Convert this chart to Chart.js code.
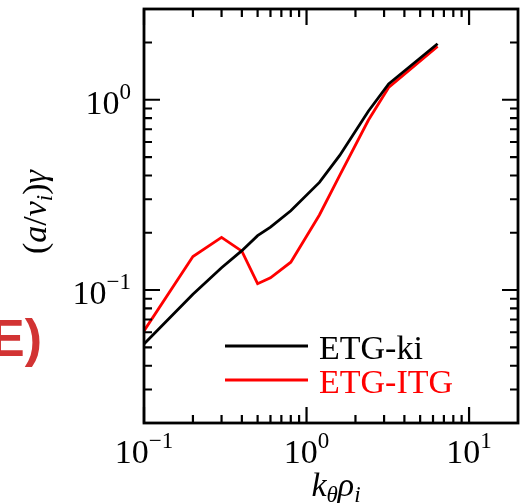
<!DOCTYPE html>
<html>
<head>
<script src="https://cdn.jsdelivr.net/npm/chart.js"></script>
<style>
  body { margin: 0; background: #fff; }
  canvas { display: block; }
</style>
</head>
<body>
<canvas id="myChart" width="525" height="504"></canvas>
<script>
// k_theta rho_i values (shared by both runs)
const kValues = [0.1, 0.2, 0.3, 0.4, 0.5, 0.6, 0.8, 1.2, 1.6, 2.4, 3.2, 6.4];
// growth rates (a/v_i) gamma
const etgKi  = [0.052, 0.095, 0.131, 0.161, 0.193, 0.214, 0.261, 0.368, 0.51, 0.87, 1.21, 1.97];
const etgItg = [0.061, 0.150, 0.189, 0.160, 0.108, 0.116, 0.140, 0.248, 0.40, 0.78, 1.16, 1.91];
const seriesNames = ['ETG-ki', 'ETG-ITG'];
const seriesColors = ['#000000', '#ff0000'];
const xMajor = [0.1, 1, 10];
const xExp = ['−1', '0', '1'];
const yMajor = [0.1, 1];
const yExp = ['−1', '0'];

const SERIF = '"Liberation Serif", "DejaVu Serif", serif';
const BIG = 34, SMALL = 23;

function toPts(ys) {
    return kValues.map((k, i) => ({ x: k, y: ys[i] }));
}

// draw a run of text pieces (font size, italic, vertical shift)
function drawParts(ctx, parts, x, y, align) {
    let w = 0;
    parts.forEach(p => {
        ctx.font = (p.it ? 'italic ' : '') + p.size + 'px ' + SERIF;
        p.w = ctx.measureText(p.t).width;
        w += p.w;
    });
    let cx = x;
    if (align === 'center') cx = x - w / 2;
    if (align === 'right') cx = x - w;
    ctx.textAlign = 'left';
    ctx.textBaseline = 'alphabetic';
    parts.forEach(p => {
        ctx.font = (p.it ? 'italic ' : '') + p.size + 'px ' + SERIF;
        ctx.fillText(p.t, cx, y + (p.dy || 0));
        cx += p.w;
    });
}

function powerLabel(exp) {
    return [{ t: '10', size: BIG }, { t: exp, size: SMALL, dy: -15 }];
}

function minorValues(min, max) {
    const out = [];
    for (let d = -3; d <= 2; d++) {
        for (let m = 2; m <= 9; m++) {
            const v = m * Math.pow(10, d);
            if (v > min * 1.0001 && v < max * 0.9999) out.push(v);
        }
    }
    return out;
}

const framePlugin = {
    id: 'frame',
    afterDatasetsDraw(chart) {
        const ctx = chart.ctx;
        const a = chart.chartArea;
        const xs = chart.scales.x, ys = chart.scales.y;
        ctx.save();
        ctx.strokeStyle = '#000';
        ctx.fillStyle = '#000';

        // ticks on all four sides, pointing inward
        ctx.lineWidth = 2.2;
        const tick = (v, len, horiz) => {
            if (horiz) {
                const px = xs.getPixelForValue(v);
                ctx.beginPath();
                ctx.moveTo(px, a.bottom); ctx.lineTo(px, a.bottom - len);
                ctx.moveTo(px, a.top); ctx.lineTo(px, a.top + len);
                ctx.stroke();
            } else {
                const py = ys.getPixelForValue(v);
                ctx.beginPath();
                ctx.moveTo(a.left, py); ctx.lineTo(a.left + len, py);
                ctx.moveTo(a.right, py); ctx.lineTo(a.right - len, py);
                ctx.stroke();
            }
        };
        xMajor.forEach(v => tick(v, 16, true));
        minorValues(xs.min, xs.max).forEach(v => tick(v, 8, true));
        yMajor.forEach(v => tick(v, 16, false));
        minorValues(ys.min, ys.max).forEach(v => tick(v, 8, false));

        // frame
        ctx.lineWidth = 2.8;
        ctx.strokeRect(a.left, a.top, a.right - a.left, a.bottom - a.top);

        // tick labels
        xMajor.forEach((v, i) => {
            drawParts(ctx, powerLabel(xExp[i]), xs.getPixelForValue(v), 463, 'center');
        });
        yMajor.forEach((v, i) => {
            drawParts(ctx, powerLabel(yExp[i]), 131, ys.getPixelForValue(v) + 14, 'right');
        });

        // axis titles
        drawParts(ctx, [
            { t: 'k', size: BIG, it: true },
            { t: 'θ', size: SMALL, it: true, dy: 6 },
            { t: 'ρ', size: BIG, it: true },
            { t: 'i', size: SMALL, it: true, dy: 6 }
        ], 336, 496, 'center');

        ctx.save();
        ctx.translate(46, 212);
        ctx.rotate(-Math.PI / 2);
        drawParts(ctx, [
            { t: '(', size: BIG },
            { t: 'a', size: BIG, it: true },
            { t: '/', size: BIG },
            { t: 'v', size: BIG, it: true },
            { t: 'i', size: SMALL, it: true, dy: 6 },
            { t: ')', size: BIG },
            { t: 'γ', size: BIG, it: true }
        ], 0, 0, 'center');
        ctx.restore();

        // legend
        const legendY = [346, 380];
        seriesNames.forEach((name, i) => {
            ctx.strokeStyle = seriesColors[i];
            ctx.fillStyle = seriesColors[i];
            ctx.lineWidth = 2.8;
            ctx.beginPath();
            ctx.moveTo(225, legendY[i]);
            ctx.lineTo(308, legendY[i]);
            ctx.stroke();
            drawParts(ctx, [{ t: name, size: BIG }], 319, legendY[i] + 13, 'left');
        });

        // panel letter, cut at the left edge
        ctx.fillStyle = '#d23333';
        ctx.font = 'bold 52px "Liberation Sans", Arial, sans-serif';
        ctx.textAlign = 'right';
        ctx.textBaseline = 'alphabetic';
        ctx.fillText('E)', 42, 356);
        ctx.restore();
    }
};

const ctx = document.getElementById('myChart').getContext('2d');
const myChart = new Chart(ctx, {
    type: 'line',
    data: {
        datasets: [
            {
                label: seriesNames[0],
                data: toPts(etgKi),
                borderColor: seriesColors[0],
                borderWidth: 2.8,
                pointRadius: 0,
                fill: false,
                tension: 0
            }, {
                label: seriesNames[1],
                data: toPts(etgItg),
                borderColor: seriesColors[1],
                borderWidth: 2.8,
                pointRadius: 0,
                fill: false,
                tension: 0
            }
        ]
    },
    options: {
        responsive: false,
        animation: false,
        layout: { padding: { left: 144, right: 7, top: 9, bottom: 81 } },
        plugins: {
            legend: { display: false },
            tooltip: { enabled: false }
        },
        scales: {
            x: { type: 'logarithmic', min: 0.1, max: 20, display: false },
            y: { type: 'logarithmic', min: 0.02, max: 3, display: false }
        }
    },
    plugins: [framePlugin]
});
</script>
</body>
</html>
